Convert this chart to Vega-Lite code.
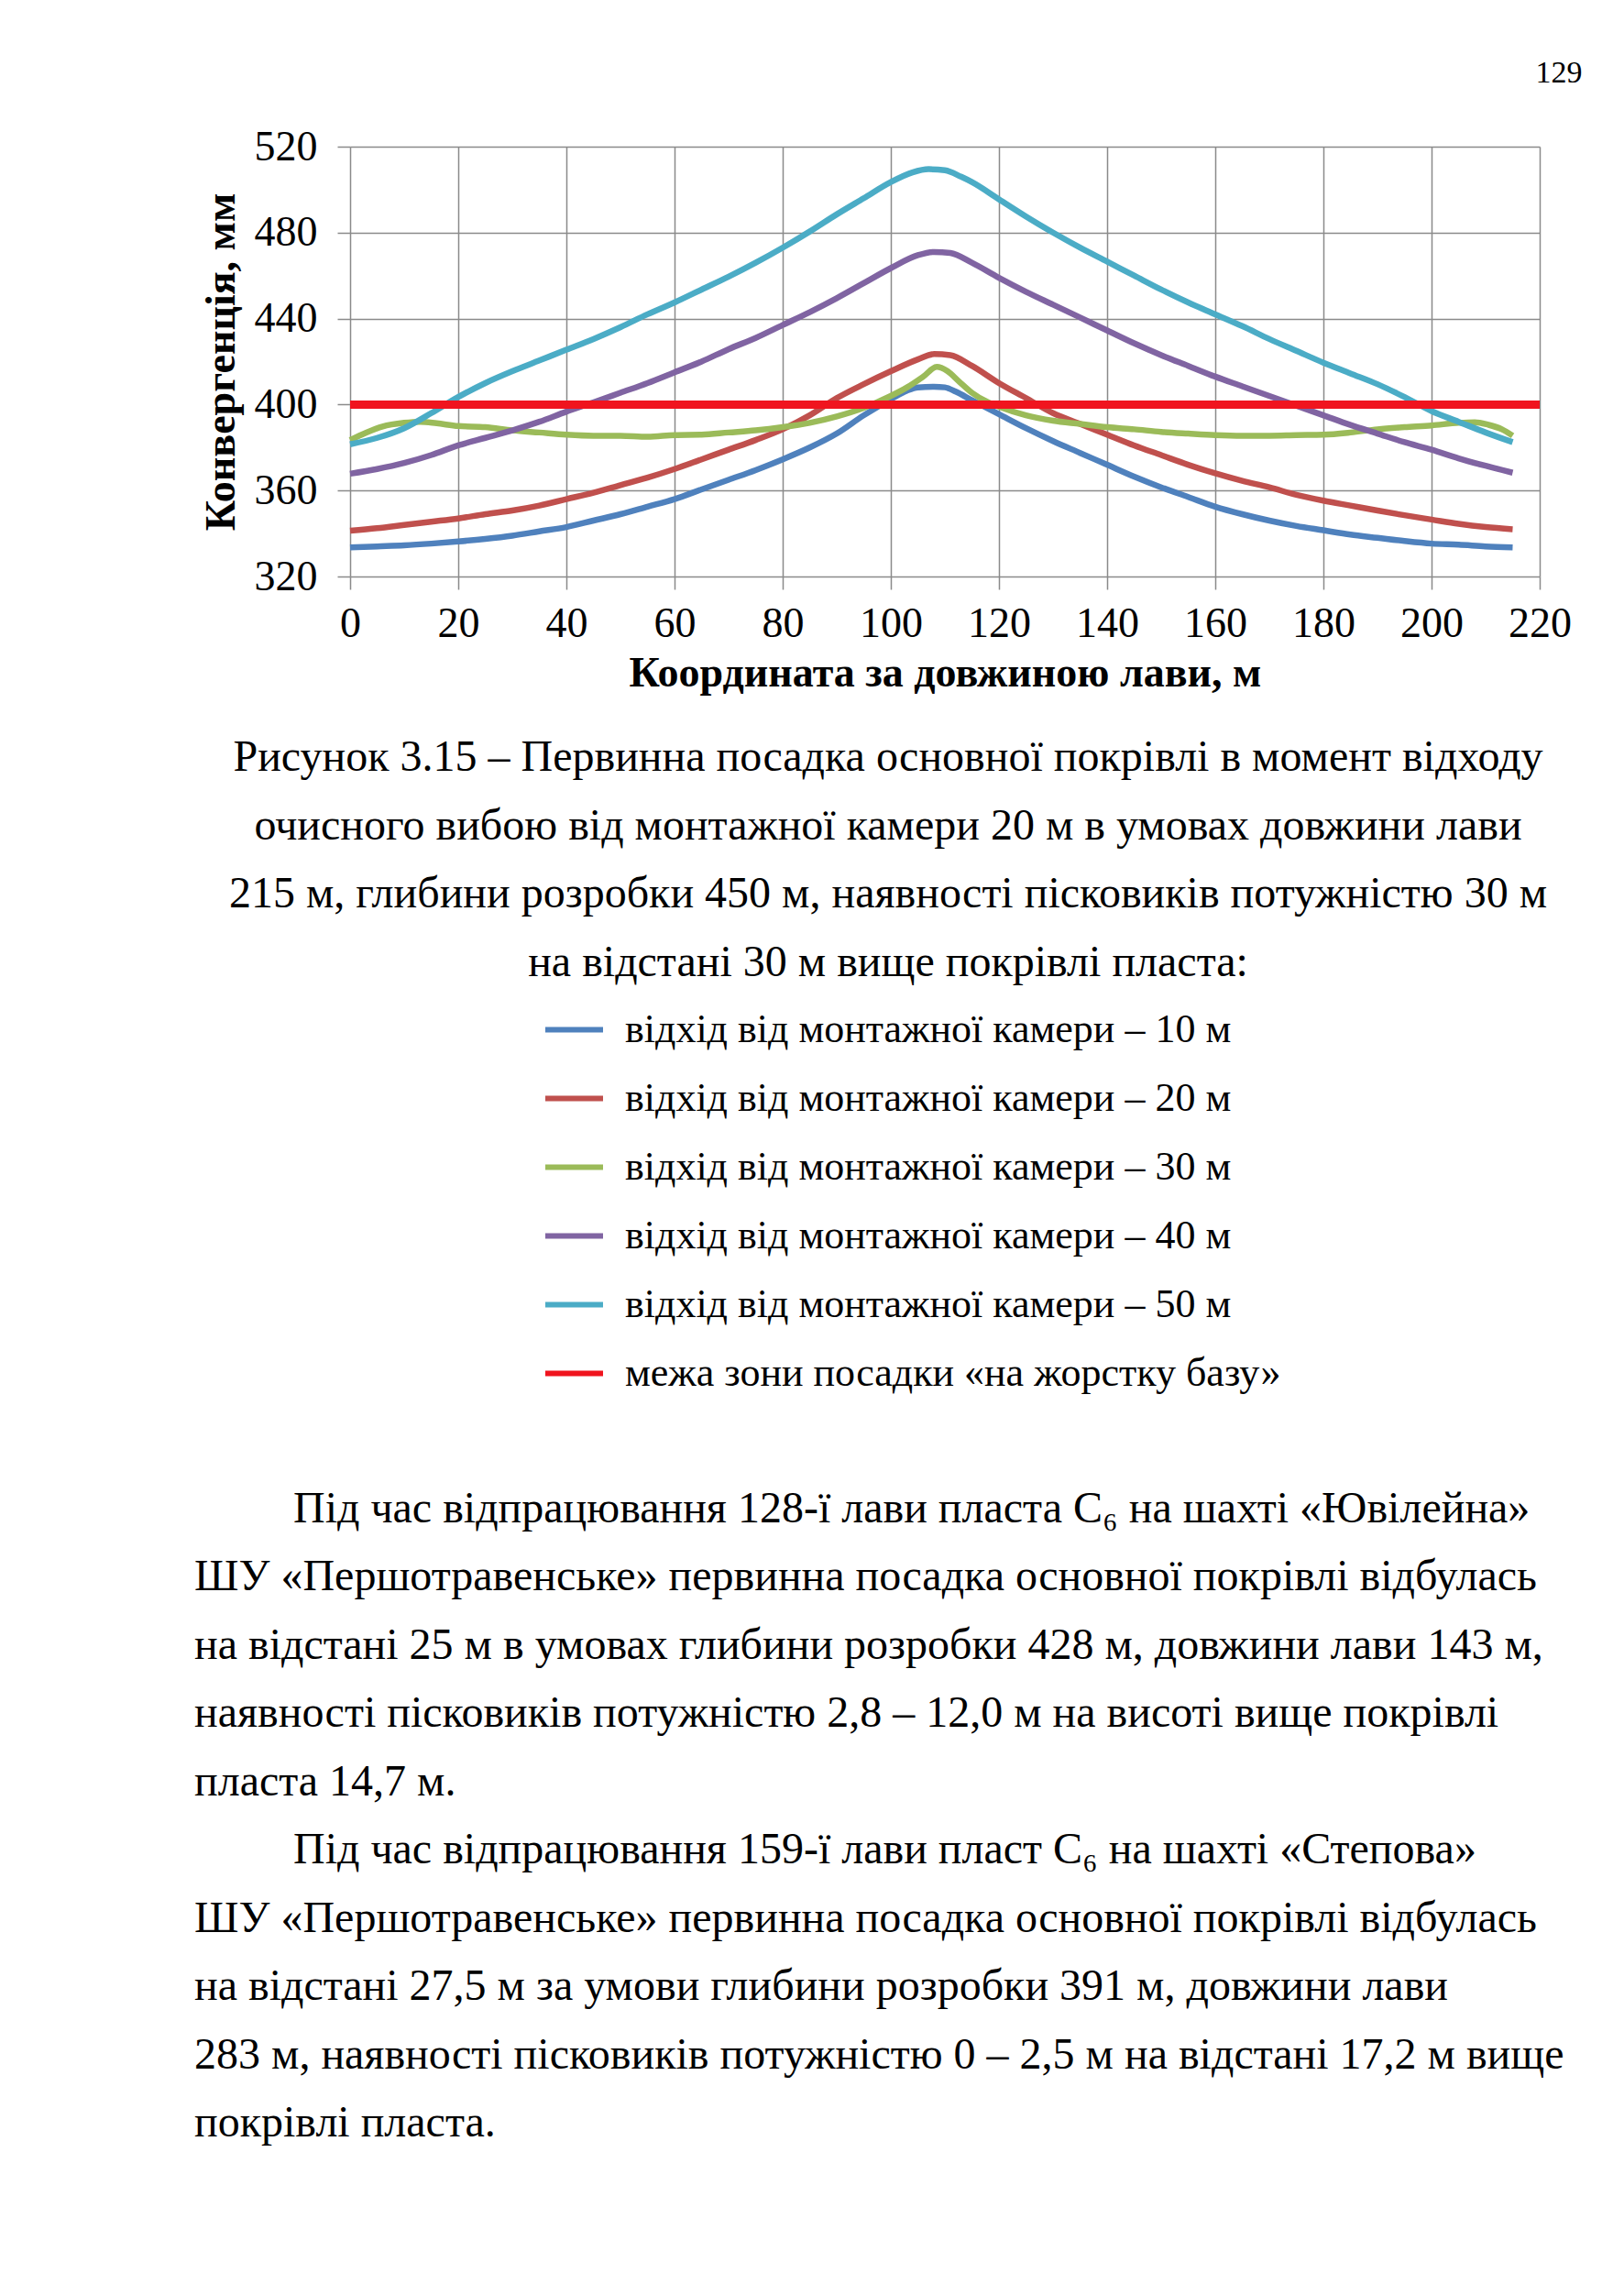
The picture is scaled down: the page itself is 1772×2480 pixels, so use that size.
{
  "$schema": "https://vega.github.io/schema/vega-lite/v6.json",
  "background": "white",
  "padding": {"left": 212, "top": 63, "right": 0, "bottom": 0},
  "title": {"text": "129", "anchor": "end", "frame": "bounds", "dx": 12, "font": "Liberation Serif", "fontSize": 34, "fontWeight": "normal", "color": "black", "offset": 40},
  "config": {"view": {"stroke": null}, "font": "Liberation Serif"},
  "spacing": 212,
  "bounds": "flush",
  "datasets": {
    "curves": [
      {"series": "відхід від монтажної камери – 10 м", "x": 0, "y": 333.5},
      {"series": "відхід від монтажної камери – 10 м", "x": 5, "y": 334},
      {"series": "відхід від монтажної камери – 10 м", "x": 10, "y": 334.5},
      {"series": "відхід від монтажної камери – 10 м", "x": 15, "y": 335.3},
      {"series": "відхід від монтажної камери – 10 м", "x": 20, "y": 336.3},
      {"series": "відхід від монтажної камери – 10 м", "x": 25, "y": 337.5},
      {"series": "відхід від монтажної камери – 10 м", "x": 30, "y": 339},
      {"series": "відхід від монтажної камери – 10 м", "x": 35, "y": 341},
      {"series": "відхід від монтажної камери – 10 м", "x": 40, "y": 343},
      {"series": "відхід від монтажної камери – 10 м", "x": 45, "y": 346},
      {"series": "відхід від монтажної камери – 10 м", "x": 50, "y": 349},
      {"series": "відхід від монтажної камери – 10 м", "x": 55, "y": 352.5},
      {"series": "відхід від монтажної камери – 10 м", "x": 60, "y": 356},
      {"series": "відхід від монтажної камери – 10 м", "x": 65, "y": 360.5},
      {"series": "відхід від монтажної камери – 10 м", "x": 70, "y": 365},
      {"series": "відхід від монтажної камери – 10 м", "x": 75, "y": 369.5},
      {"series": "відхід від монтажної камери – 10 м", "x": 80, "y": 374.5},
      {"series": "відхід від монтажної камери – 10 м", "x": 85, "y": 380},
      {"series": "відхід від монтажної камери – 10 м", "x": 90, "y": 386.5},
      {"series": "відхід від монтажної камери – 10 м", "x": 95, "y": 395},
      {"series": "відхід від монтажної камери – 10 м", "x": 100, "y": 402.5},
      {"series": "відхід від монтажної камери – 10 м", "x": 103, "y": 406.5},
      {"series": "відхід від монтажної камери – 10 м", "x": 105, "y": 408},
      {"series": "відхід від монтажної камери – 10 м", "x": 108, "y": 408.3},
      {"series": "відхід від монтажної камери – 10 м", "x": 110, "y": 408},
      {"series": "відхід від монтажної камери – 10 м", "x": 112, "y": 406},
      {"series": "відхід від монтажної камери – 10 м", "x": 115, "y": 402},
      {"series": "відхід від монтажної камери – 10 м", "x": 120, "y": 395.5},
      {"series": "відхід від монтажної камери – 10 м", "x": 125, "y": 389},
      {"series": "відхід від монтажної камери – 10 м", "x": 130, "y": 383},
      {"series": "відхід від монтажної камери – 10 м", "x": 135, "y": 377.5},
      {"series": "відхід від монтажної камери – 10 м", "x": 140, "y": 372},
      {"series": "відхід від монтажної камери – 10 м", "x": 145, "y": 366.5},
      {"series": "відхід від монтажної камери – 10 м", "x": 150, "y": 361.5},
      {"series": "відхід від монтажної камери – 10 м", "x": 155, "y": 357},
      {"series": "відхід від монтажної камери – 10 м", "x": 160, "y": 352.5},
      {"series": "відхід від монтажної камери – 10 м", "x": 165, "y": 349},
      {"series": "відхід від монтажної камери – 10 м", "x": 170, "y": 346},
      {"series": "відхід від монтажної камери – 10 м", "x": 175, "y": 343.5},
      {"series": "відхід від монтажної камери – 10 м", "x": 180, "y": 341.5},
      {"series": "відхід від монтажної камери – 10 м", "x": 185, "y": 339.5},
      {"series": "відхід від монтажної камери – 10 м", "x": 190, "y": 338},
      {"series": "відхід від монтажної камери – 10 м", "x": 195, "y": 336.5},
      {"series": "відхід від монтажної камери – 10 м", "x": 200, "y": 335.3},
      {"series": "відхід від монтажної камери – 10 м", "x": 205, "y": 334.8},
      {"series": "відхід від монтажної камери – 10 м", "x": 210, "y": 334},
      {"series": "відхід від монтажної камери – 10 м", "x": 215, "y": 333.5},

      {"series": "відхід від монтажної камери – 20 м", "x": 0, "y": 341.3},
      {"series": "відхід від монтажної камери – 20 м", "x": 5, "y": 342.5},
      {"series": "відхід від монтажної камери – 20 м", "x": 10, "y": 344},
      {"series": "відхід від монтажної камери – 20 м", "x": 15, "y": 345.5},
      {"series": "відхід від монтажної камери – 20 м", "x": 20, "y": 347},
      {"series": "відхід від монтажної камери – 20 м", "x": 25, "y": 349},
      {"series": "відхід від монтажної камери – 20 м", "x": 30, "y": 350.7},
      {"series": "відхід від монтажної камери – 20 м", "x": 35, "y": 353},
      {"series": "відхід від монтажної камери – 20 м", "x": 40, "y": 356},
      {"series": "відхід від монтажної камери – 20 м", "x": 45, "y": 359},
      {"series": "відхід від монтажної камери – 20 м", "x": 50, "y": 362.5},
      {"series": "відхід від монтажної камери – 20 м", "x": 55, "y": 366},
      {"series": "відхід від монтажної камери – 20 м", "x": 60, "y": 370},
      {"series": "відхід від монтажної камери – 20 м", "x": 65, "y": 374.5},
      {"series": "відхід від монтажної камери – 20 м", "x": 70, "y": 379},
      {"series": "відхід від монтажної камери – 20 м", "x": 75, "y": 383.5},
      {"series": "відхід від монтажної камери – 20 м", "x": 80, "y": 388.5},
      {"series": "відхід від монтажної камери – 20 м", "x": 85, "y": 395},
      {"series": "відхід від монтажної камери – 20 м", "x": 90, "y": 403},
      {"series": "відхід від монтажної камери – 20 м", "x": 95, "y": 409.5},
      {"series": "відхід від монтажної камери – 20 м", "x": 100, "y": 415.5},
      {"series": "відхід від монтажної камери – 20 м", "x": 105, "y": 421},
      {"series": "відхід від монтажної камери – 20 м", "x": 108, "y": 423.5},
      {"series": "відхід від монтажної камери – 20 м", "x": 111, "y": 423},
      {"series": "відхід від монтажної камери – 20 м", "x": 115, "y": 418},
      {"series": "відхід від монтажної камери – 20 м", "x": 120, "y": 410},
      {"series": "відхід від монтажної камери – 20 м", "x": 125, "y": 403},
      {"series": "відхід від монтажної камери – 20 м", "x": 130, "y": 396},
      {"series": "відхід від монтажної камери – 20 м", "x": 135, "y": 391},
      {"series": "відхід від монтажної камери – 20 м", "x": 140, "y": 386},
      {"series": "відхід від монтажної камери – 20 м", "x": 145, "y": 381},
      {"series": "відхід від монтажної камери – 20 м", "x": 150, "y": 376.5},
      {"series": "відхід від монтажної камери – 20 м", "x": 155, "y": 372},
      {"series": "відхід від монтажної камери – 20 м", "x": 160, "y": 368},
      {"series": "відхід від монтажної камери – 20 м", "x": 165, "y": 364.5},
      {"series": "відхід від монтажної камери – 20 м", "x": 170, "y": 361.5},
      {"series": "відхід від монтажної камери – 20 м", "x": 175, "y": 358},
      {"series": "відхід від монтажної камери – 20 м", "x": 180, "y": 355.3},
      {"series": "відхід від монтажної камери – 20 м", "x": 185, "y": 353},
      {"series": "відхід від монтажної камери – 20 м", "x": 190, "y": 350.7},
      {"series": "відхід від монтажної камери – 20 м", "x": 195, "y": 348.5},
      {"series": "відхід від монтажної камери – 20 м", "x": 200, "y": 346.5},
      {"series": "відхід від монтажної камери – 20 м", "x": 205, "y": 344.5},
      {"series": "відхід від монтажної камери – 20 м", "x": 210, "y": 343},
      {"series": "відхід від монтажної камери – 20 м", "x": 215, "y": 342},

      {"series": "відхід від монтажної камери – 30 м", "x": 0, "y": 383.5},
      {"series": "відхід від монтажної камери – 30 м", "x": 3, "y": 387},
      {"series": "відхід від монтажної камери – 30 м", "x": 6, "y": 389.8},
      {"series": "відхід від монтажної камери – 30 м", "x": 10, "y": 391.5},
      {"series": "відхід від монтажної камери – 30 м", "x": 13, "y": 392},
      {"series": "відхід від монтажної камери – 30 м", "x": 16, "y": 391.3},
      {"series": "відхід від монтажної камери – 30 м", "x": 20, "y": 390},
      {"series": "відхід від монтажної камери – 30 м", "x": 25, "y": 389.5},
      {"series": "відхід від монтажної камери – 30 м", "x": 30, "y": 388},
      {"series": "відхід від монтажної камери – 30 м", "x": 35, "y": 387},
      {"series": "відхід від монтажної камери – 30 м", "x": 40, "y": 386},
      {"series": "відхід від монтажної камери – 30 м", "x": 45, "y": 385.5},
      {"series": "відхід від монтажної камери – 30 м", "x": 50, "y": 385.5},
      {"series": "відхід від монтажної камери – 30 м", "x": 55, "y": 385},
      {"series": "відхід від монтажної камери – 30 м", "x": 60, "y": 385.8},
      {"series": "відхід від монтажної камери – 30 м", "x": 65, "y": 386},
      {"series": "відхід від монтажної камери – 30 м", "x": 70, "y": 387},
      {"series": "відхід від монтажної камери – 30 м", "x": 75, "y": 388},
      {"series": "відхід від монтажної камери – 30 м", "x": 80, "y": 389.5},
      {"series": "відхід від монтажної камери – 30 м", "x": 85, "y": 391.5},
      {"series": "відхід від монтажної камери – 30 м", "x": 90, "y": 394.5},
      {"series": "відхід від монтажної камери – 30 м", "x": 95, "y": 398.5},
      {"series": "відхід від монтажної камери – 30 м", "x": 100, "y": 404},
      {"series": "відхід від монтажної камери – 30 м", "x": 103, "y": 408},
      {"series": "відхід від монтажної камери – 30 м", "x": 106, "y": 413},
      {"series": "відхід від монтажної камери – 30 м", "x": 108.5, "y": 417.5},
      {"series": "відхід від монтажної камери – 30 м", "x": 110.5, "y": 415.5},
      {"series": "відхід від монтажної камери – 30 м", "x": 112.5, "y": 411},
      {"series": "відхід від монтажної камери – 30 м", "x": 115, "y": 405.5},
      {"series": "відхід від монтажної камери – 30 м", "x": 118, "y": 401},
      {"series": "відхід від монтажної камери – 30 м", "x": 120, "y": 399},
      {"series": "відхід від монтажної камери – 30 м", "x": 125, "y": 395},
      {"series": "відхід від монтажної камери – 30 м", "x": 130, "y": 392.5},
      {"series": "відхід від монтажної камери – 30 м", "x": 135, "y": 391},
      {"series": "відхід від монтажної камери – 30 м", "x": 140, "y": 389.5},
      {"series": "відхід від монтажної камери – 30 м", "x": 145, "y": 388.5},
      {"series": "відхід від монтажної камери – 30 м", "x": 150, "y": 387.3},
      {"series": "відхід від монтажної камери – 30 м", "x": 155, "y": 386.5},
      {"series": "відхід від монтажної камери – 30 м", "x": 160, "y": 385.8},
      {"series": "відхід від монтажної камери – 30 м", "x": 165, "y": 385.5},
      {"series": "відхід від монтажної камери – 30 м", "x": 170, "y": 385.5},
      {"series": "відхід від монтажної камери – 30 м", "x": 175, "y": 385.8},
      {"series": "відхід від монтажної камери – 30 м", "x": 180, "y": 386},
      {"series": "відхід від монтажної камери – 30 м", "x": 185, "y": 387},
      {"series": "відхід від монтажної камери – 30 м", "x": 190, "y": 388.5},
      {"series": "відхід від монтажної камери – 30 м", "x": 195, "y": 389.5},
      {"series": "відхід від монтажної камери – 30 м", "x": 200, "y": 390.3},
      {"series": "відхід від монтажної камери – 30 м", "x": 205, "y": 391.5},
      {"series": "відхід від монтажної камери – 30 м", "x": 208, "y": 391.8},
      {"series": "відхід від монтажної камери – 30 м", "x": 210.5, "y": 390.6},
      {"series": "відхід від монтажної камери – 30 м", "x": 213, "y": 388.5},
      {"series": "відхід від монтажної камери – 30 м", "x": 215, "y": 385.5},

      {"series": "відхід від монтажної камери – 40 м", "x": 0, "y": 367.8},
      {"series": "відхід від монтажної камери – 40 м", "x": 5, "y": 370},
      {"series": "відхід від монтажної камери – 40 м", "x": 10, "y": 372.8},
      {"series": "відхід від монтажної камери – 40 м", "x": 15, "y": 376.5},
      {"series": "відхід від монтажної камери – 40 м", "x": 20, "y": 381},
      {"series": "відхід від монтажної камери – 40 м", "x": 25, "y": 384.5},
      {"series": "відхід від монтажної камери – 40 м", "x": 30, "y": 388},
      {"series": "відхід від монтажної камери – 40 м", "x": 35, "y": 392},
      {"series": "відхід від монтажної камери – 40 м", "x": 40, "y": 396.7},
      {"series": "відхід від монтажної камери – 40 м", "x": 45, "y": 401},
      {"series": "відхід від монтажної камери – 40 м", "x": 50, "y": 405.5},
      {"series": "відхід від монтажної камери – 40 м", "x": 55, "y": 410},
      {"series": "відхід від монтажної камери – 40 м", "x": 60, "y": 415},
      {"series": "відхід від монтажної камери – 40 м", "x": 65, "y": 420},
      {"series": "відхід від монтажної камери – 40 м", "x": 70, "y": 425.8},
      {"series": "відхід від монтажної камери – 40 м", "x": 75, "y": 431},
      {"series": "відхід від монтажної камери – 40 м", "x": 80, "y": 437},
      {"series": "відхід від монтажної камери – 40 м", "x": 85, "y": 443},
      {"series": "відхід від монтажної камери – 40 м", "x": 90, "y": 449.5},
      {"series": "відхід від монтажної камери – 40 м", "x": 95, "y": 456.5},
      {"series": "відхід від монтажної камери – 40 м", "x": 100, "y": 463.5},
      {"series": "відхід від монтажної камери – 40 м", "x": 105, "y": 469.5},
      {"series": "відхід від монтажної камери – 40 м", "x": 108, "y": 471},
      {"series": "відхід від монтажної камери – 40 м", "x": 111, "y": 470.5},
      {"series": "відхід від монтажної камери – 40 м", "x": 115, "y": 466},
      {"series": "відхід від монтажної камери – 40 м", "x": 120, "y": 459},
      {"series": "відхід від монтажної камери – 40 м", "x": 125, "y": 452.5},
      {"series": "відхід від монтажної камери – 40 м", "x": 130, "y": 446.5},
      {"series": "відхід від монтажної камери – 40 м", "x": 135, "y": 440.5},
      {"series": "відхід від монтажної камери – 40 м", "x": 140, "y": 434.5},
      {"series": "відхід від монтажної камери – 40 м", "x": 145, "y": 428.5},
      {"series": "відхід від монтажної камери – 40 м", "x": 150, "y": 423},
      {"series": "відхід від монтажної камери – 40 м", "x": 155, "y": 418},
      {"series": "відхід від монтажної камери – 40 м", "x": 160, "y": 413},
      {"series": "відхід від монтажної камери – 40 м", "x": 165, "y": 408.5},
      {"series": "відхід від монтажної камери – 40 м", "x": 170, "y": 404},
      {"series": "відхід від монтажної камери – 40 м", "x": 175, "y": 399.5},
      {"series": "відхід від монтажної камери – 40 м", "x": 180, "y": 395},
      {"series": "відхід від монтажної камери – 40 м", "x": 185, "y": 390.5},
      {"series": "відхід від монтажної камери – 40 м", "x": 190, "y": 386.5},
      {"series": "відхід від монтажної камери – 40 м", "x": 195, "y": 382.5},
      {"series": "відхід від монтажної камери – 40 м", "x": 200, "y": 379},
      {"series": "відхід від монтажної камери – 40 м", "x": 205, "y": 375},
      {"series": "відхід від монтажної камери – 40 м", "x": 210, "y": 371.5},
      {"series": "відхід від монтажної камери – 40 м", "x": 215, "y": 368.3},

      {"series": "відхід від монтажної камери – 50 м", "x": 0, "y": 381.5},
      {"series": "відхід від монтажної камери – 50 м", "x": 5, "y": 384.5},
      {"series": "відхід від монтажної камери – 50 м", "x": 10, "y": 389},
      {"series": "відхід від монтажної камери – 50 м", "x": 15, "y": 396},
      {"series": "відхід від монтажної камери – 50 м", "x": 20, "y": 403.5},
      {"series": "відхід від монтажної камери – 50 м", "x": 25, "y": 410},
      {"series": "відхід від монтажної камери – 50 м", "x": 30, "y": 415.5},
      {"series": "відхід від монтажної камери – 50 м", "x": 35, "y": 420.5},
      {"series": "відхід від монтажної камери – 50 м", "x": 40, "y": 425.5},
      {"series": "відхід від монтажної камери – 50 м", "x": 45, "y": 430.5},
      {"series": "відхід від монтажної камери – 50 м", "x": 50, "y": 436},
      {"series": "відхід від монтажної камери – 50 м", "x": 55, "y": 442},
      {"series": "відхід від монтажної камери – 50 м", "x": 60, "y": 447.5},
      {"series": "відхід від монтажної камери – 50 м", "x": 65, "y": 453.5},
      {"series": "відхід від монтажної камери – 50 м", "x": 70, "y": 459.5},
      {"series": "відхід від монтажної камери – 50 м", "x": 75, "y": 466},
      {"series": "відхід від монтажної камери – 50 м", "x": 80, "y": 473},
      {"series": "відхід від монтажної камери – 50 м", "x": 85, "y": 480.5},
      {"series": "відхід від монтажної камери – 50 м", "x": 90, "y": 488.5},
      {"series": "відхід від монтажної камери – 50 м", "x": 95, "y": 496},
      {"series": "відхід від монтажної камери – 50 м", "x": 100, "y": 503.5},
      {"series": "відхід від монтажної камери – 50 м", "x": 104, "y": 508},
      {"series": "відхід від монтажної камери – 50 м", "x": 107, "y": 509.5},
      {"series": "відхід від монтажної камери – 50 м", "x": 110, "y": 509},
      {"series": "відхід від монтажної камери – 50 м", "x": 113, "y": 506},
      {"series": "відхід від монтажної камери – 50 м", "x": 115, "y": 503.5},
      {"series": "відхід від монтажної камери – 50 м", "x": 120, "y": 495.5},
      {"series": "відхід від монтажної камери – 50 м", "x": 125, "y": 487.5},
      {"series": "відхід від монтажної камери – 50 м", "x": 130, "y": 480},
      {"series": "відхід від монтажної камери – 50 м", "x": 135, "y": 473},
      {"series": "відхід від монтажної камери – 50 м", "x": 140, "y": 466.5},
      {"series": "відхід від монтажної камери – 50 м", "x": 145, "y": 460},
      {"series": "відхід від монтажної камери – 50 м", "x": 150, "y": 453.5},
      {"series": "відхід від монтажної камери – 50 м", "x": 155, "y": 447.5},
      {"series": "відхід від монтажної камери – 50 м", "x": 160, "y": 442},
      {"series": "відхід від монтажної камери – 50 м", "x": 165, "y": 436.5},
      {"series": "відхід від монтажної камери – 50 м", "x": 170, "y": 430.5},
      {"series": "відхід від монтажної камери – 50 м", "x": 175, "y": 425},
      {"series": "відхід від монтажної камери – 50 м", "x": 180, "y": 419.5},
      {"series": "відхід від монтажної камери – 50 м", "x": 185, "y": 414.5},
      {"series": "відхід від монтажної камери – 50 м", "x": 190, "y": 409.5},
      {"series": "відхід від монтажної камери – 50 м", "x": 195, "y": 403.5},
      {"series": "відхід від монтажної камери – 50 м", "x": 200, "y": 397},
      {"series": "відхід від монтажної камери – 50 м", "x": 205, "y": 392},
      {"series": "відхід від монтажної камери – 50 м", "x": 210, "y": 387},
      {"series": "відхід від монтажної камери – 50 м", "x": 215, "y": 382.5}
    ],
    "caption": [
      {"line": 0, "text": "Рисунок 3.15 – Первинна посадка основної покрівлі в момент відходу"},
      {"line": 1, "text": "очисного вибою від монтажної камери 20 м в умовах довжини лави"},
      {"line": 2, "text": "215 м, глибини розробки 450 м, наявності пісковиків потужністю 30 м"},
      {"line": 3, "text": "на відстані 30 м вище покрівлі пласта:"}
    ],
    "body": [
      {"line": 11, "text": "\u200d\u00a0\u00a0\u00a0\u00a0\u00a0\u00a0\u00a0\u00a0\u00a0Під час відпрацювання 128-ї лави пласта С₆ на шахті «Ювілейна»"},
      {"line": 12, "text": "ШУ «Першотравенське» первинна посадка основної покрівлі відбулась"},
      {"line": 13, "text": "на відстані 25 м в умовах глибини розробки 428 м, довжини лави 143 м,"},
      {"line": 14, "text": "наявності пісковиків потужністю 2,8 – 12,0 м на висоті вище покрівлі"},
      {"line": 15, "text": "пласта 14,7 м."},
      {"line": 16, "text": "\u200d\u00a0\u00a0\u00a0\u00a0\u00a0\u00a0\u00a0\u00a0\u00a0Під час відпрацювання 159-ї лави пласт С₆ на шахті «Степова»"},
      {"line": 17, "text": "ШУ «Першотравенське» первинна посадка основної покрівлі відбулась"},
      {"line": 18, "text": "на відстані 27,5 м за умови глибини розробки 391 м, довжини лави"},
      {"line": 19, "text": "283 м, наявності пісковиків потужністю 0 – 2,5 м на відстані 17,2 м вище"},
      {"line": 20, "text": "покрівлі пласта."}
    ]
  },
  "vconcat": [
    {
      "width": 1298,
      "height": 469,
      "data": {"name": "curves"},
      "layer": [
        {
          "mark": {"type": "line", "strokeWidth": 6.5, "interpolate": "monotone"},
          "encoding": {
            "x": {
              "field": "x", "type": "quantitative",
              "scale": {"domain": [0, 220], "nice": false, "zero": false},
              "axis": {
                "values": [0, 20, 40, 60, 80, 100, 120, 140, 160, 180, 200, 220],
                "title": "Координата за довжиною лави, м",
                "grid": true, "gridColor": "#8a8a8a", "gridWidth": 1.5, "gridOpacity": 1,
                "domain": false, "tickSize": 14, "tickColor": "#8a8a8a", "tickWidth": 1.5,
                "labelFont": "Liberation Serif", "labelFontSize": 46, "labelColor": "black", "labelPadding": 15,
                "labelFlush": false, "labelOverlap": false,
                "titleFont": "Liberation Serif", "titleFontSize": 46, "titleFontWeight": "bold", "titleColor": "black", "titlePadding": 9
              }
            },
            "y": {
              "field": "y", "type": "quantitative",
              "scale": {"domain": [320, 520], "nice": false, "zero": false},
              "axis": {
                "values": [320, 360, 400, 440, 480, 520],
                "title": "Конвергенція, мм",
                "grid": true, "gridColor": "#8a8a8a", "gridWidth": 1.5, "gridOpacity": 1,
                "domain": false, "tickSize": 14, "tickColor": "#8a8a8a", "tickWidth": 1.5,
                "labelFont": "Liberation Serif", "labelFontSize": 46, "labelColor": "black", "labelPadding": 22,
                "labelFlush": false, "labelOverlap": false,
                "titleFont": "Liberation Serif", "titleFontSize": 46, "titleFontWeight": "bold", "titleColor": "black", "titlePadding": 12
              }
            },
            "color": {
              "field": "series", "type": "nominal",
              "scale": {
                "domain": ["відхід від монтажної камери – 10 м", "відхід від монтажної камери – 20 м", "відхід від монтажної камери – 30 м", "відхід від монтажної камери – 40 м", "відхід від монтажної камери – 50 м", "межа зони посадки «на жорстку базу»"],
                "range": ["#4F81BD", "#C0504D", "#9BBB59", "#8064A2", "#4BACC6", "#F0141E"]
              },
              "legend": {
                "orient": "none", "legendX": 210, "legendY": 929, "direction": "vertical", "title": null,
                "symbolType": "stroke", "symbolSize": 3969, "symbolStrokeWidth": 6,
                "labelFont": "Liberation Serif", "labelFontSize": 44, "labelColor": "black", "labelOffset": 21,
                "labelLimit": 2000, "rowPadding": 18, "padding": 0
              }
            }
          }
        },
        {
          "mark": {"type": "rule", "strokeWidth": 8},
          "encoding": {
            "y": {"datum": 400},
            "color": {"datum": "межа зони посадки «на жорстку базу»"}
          }
        }
      ]
    },
    {
      "width": 1174,
      "height": 1490,
      "layer": [
        {
          "data": {"name": "caption"},
          "mark": {"type": "text", "align": "center", "baseline": "alphabetic", "font": "Liberation Serif", "fontSize": 48, "color": "black"},
          "encoding": {
            "y": {"field": "line", "type": "quantitative", "scale": {"domain": [0, 20], "reverse": true, "nice": false, "zero": false}, "axis": null},
            "text": {"field": "text"}
          }
        },
        {
          "data": {"name": "body"},
          "mark": {"type": "text", "align": "left", "baseline": "alphabetic", "dx": -170, "font": "Liberation Serif", "fontSize": 48, "color": "black"},
          "encoding": {
            "x": {"datum": 0, "type": "quantitative", "scale": {"domain": [0, 1]}, "axis": null},
            "y": {"field": "line", "type": "quantitative", "scale": {"domain": [0, 20], "reverse": true, "nice": false, "zero": false}, "axis": null},
            "text": {"field": "text"}
          }
        }
      ]
    }
  ]
}
